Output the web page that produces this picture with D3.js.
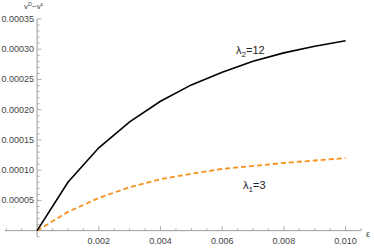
<!DOCTYPE html>
<html>
<head>
<meta charset="utf-8">
<script src="https://cdn.jsdelivr.net/npm/d3@7"></script>
<style>
  body { margin: 0; background: #fff; }
  svg { display: block; font-family: "Liberation Sans", Arial, sans-serif; }
</style>
</head>
<body>
<div id="chart"></div>
<script>
// data
var epsValues = [0, 0.001, 0.002, 0.003, 0.004, 0.005, 0.006, 0.007, 0.008, 0.009, 0.010];
var lambda12 = [0, 0.0000800, 0.000137, 0.000180, 0.000214, 0.000241, 0.000262, 0.000280, 0.000294, 0.000305, 0.000314];
var lambda3 = [0, 0.0000310, 0.0000540, 0.0000720, 0.0000850, 0.0000940, 0.000102, 0.000107, 0.000112, 0.000116, 0.000120];
var xTicks = [0.002, 0.004, 0.006, 0.008, 0.010];
var yTicks = [0.00005, 0.00010, 0.00015, 0.00020, 0.00025, 0.00030, 0.00035];

var width = 374, height = 248;

var svg = d3.select("#chart")
    .append("svg")
    .attr("width", width)
    .attr("height", height);

// scales (axis origin at 37,230.7)
var x = d3.scaleLinear()
    .domain([-0.00104, 0.0105])
    .range([5, 361]);

var y = d3.scaleLinear()
    .domain([-0.00001, 0.00035])
    .range([236.7, 19]);

var axisColor = "#9a9a9a";
var labelColor = "#444";

// minor ticks
var xMinor = d3.range(-0.001, 0.01051, 0.0005).filter(function(d) {
    return Math.abs(d) > 1e-9 && xTicks.every(function(t) { return Math.abs(t - d) > 1e-9; });
});
var yMinor = d3.range(-0.00001, 0.000351, 0.00001).filter(function(d) {
    return Math.abs(d) > 1e-12 && yTicks.every(function(t) { return Math.abs(t - d) > 1e-12; });
});

// x axis
var gx = svg.append("g")
    .attr("transform", "translate(0," + y(0) + ")");

gx.append("line")
    .attr("x1", x.range()[0]).attr("x2", x.range()[1])
    .attr("stroke", axisColor).attr("stroke-width", 1);

gx.selectAll(".minor")
    .data(xMinor)
    .enter()
    .append("line")
    .attr("x1", function(d) { return x(d); })
    .attr("x2", function(d) { return x(d); })
    .attr("y1", 0).attr("y2", -2.5)
    .attr("stroke", axisColor).attr("stroke-width", 0.8);

gx.selectAll(".major")
    .data(xTicks)
    .enter()
    .append("line")
    .attr("x1", function(d) { return x(d); })
    .attr("x2", function(d) { return x(d); })
    .attr("y1", 0).attr("y2", -4.5)
    .attr("stroke", axisColor).attr("stroke-width", 0.8);

gx.selectAll(".lab")
    .data(xTicks)
    .enter()
    .append("text")
    .attr("x", function(d) { return x(d); })
    .attr("y", 13)
    .attr("text-anchor", "middle")
    .style("font-size", "9px")
    .style("fill", labelColor)
    .text(function(d) { return d3.format(".3f")(d); });

// y axis
var gy = svg.append("g")
    .attr("transform", "translate(" + x(0) + ",0)");

gy.append("line")
    .attr("y1", y.range()[0]).attr("y2", y.range()[1])
    .attr("stroke", axisColor).attr("stroke-width", 1);

gy.selectAll(".minor")
    .data(yMinor)
    .enter()
    .append("line")
    .attr("y1", function(d) { return y(d); })
    .attr("y2", function(d) { return y(d); })
    .attr("x1", 0).attr("x2", 2.5)
    .attr("stroke", axisColor).attr("stroke-width", 0.8);

gy.selectAll(".major")
    .data(yTicks)
    .enter()
    .append("line")
    .attr("y1", function(d) { return y(d); })
    .attr("y2", function(d) { return y(d); })
    .attr("x1", 0).attr("x2", 4.5)
    .attr("stroke", axisColor).attr("stroke-width", 0.8);

gy.selectAll(".lab")
    .data(yTicks)
    .enter()
    .append("text")
    .attr("x", -3)
    .attr("y", function(d) { return y(d) + 3; })
    .attr("text-anchor", "end")
    .style("font-size", "9px")
    .style("fill", labelColor)
    .text(function(d) { return d3.format(".5f")(d); });

// axis labels
var yl = svg.append("text")
    .attr("x", 24).attr("y", 9)
    .style("font-size", "8px")
    .style("fill", labelColor);
yl.append("tspan").text("v");
yl.append("tspan").attr("dy", -3).style("font-size", "5.5px").text("D");
yl.append("tspan").attr("dy", 3).text("\u2212v");
yl.append("tspan").attr("dy", -3).style("font-size", "5.5px").text("\u03b5");

svg.append("text")
    .attr("x", 366).attr("y", 237)
    .style("font-size", "9px")
    .style("fill", labelColor)
    .text("\u03b5");

// curves
var line = d3.line()
    .x(function(d) { return x(d[0]); })
    .y(function(d) { return y(d[1]); });

svg.append("path")
    .datum(d3.zip(epsValues, lambda3))
    .attr("d", line)
    .attr("fill", "none")
    .attr("stroke", "#f7901e")
    .attr("stroke-width", 1.8)
    .attr("stroke-dasharray", "5,3");

svg.append("path")
    .datum(d3.zip(epsValues, lambda12))
    .attr("d", line)
    .attr("fill", "none")
    .attr("stroke", "#000")
    .attr("stroke-width", 1.6);

// curve labels
var t2 = svg.append("text")
    .attr("x", 236).attr("y", 54)
    .style("font-size", "11px")
    .style("fill", "#222");
t2.append("tspan").text("\u03bb");
t2.append("tspan").attr("dy", 2.5).style("font-size", "8px").text("2");
t2.append("tspan").attr("dy", -2.5).text("=12");

var t1 = svg.append("text")
    .attr("x", 243).attr("y", 189)
    .style("font-size", "11px")
    .style("fill", "#222");
t1.append("tspan").text("\u03bb");
t1.append("tspan").attr("dy", 2.5).style("font-size", "8px").text("1");
t1.append("tspan").attr("dy", -2.5).text("=3");
</script>
</body>
</html>
